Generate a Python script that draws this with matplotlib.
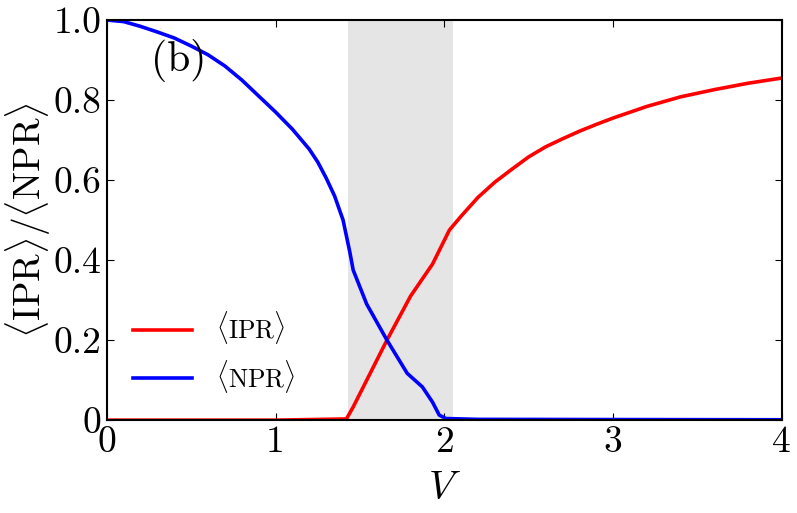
import numpy as np
import matplotlib
matplotlib.use('Agg')
import matplotlib.pyplot as plt

plt.rcParams['font.family'] = 'serif'
plt.rcParams['font.serif'] = ['cmr10']
plt.rcParams['mathtext.fontset'] = 'cm'
plt.rcParams['axes.formatter.use_mathtext'] = True

# values
v_npr = [0.0, 0.1, 0.2, 0.3, 0.4, 0.5, 0.6, 0.7, 0.8, 0.9, 1.0, 1.1, 1.2,
         1.25, 1.3, 1.35, 1.4, 1.44, 1.46, 1.54, 1.66, 1.78, 1.87, 1.93, 1.97,
         2.01, 2.2, 3.0, 4.0]
npr = [1.0, 0.996, 0.984, 0.97, 0.955, 0.935, 0.913, 0.885, 0.85, 0.81,
       0.77, 0.727, 0.677, 0.645, 0.605, 0.56, 0.50, 0.42, 0.375, 0.29, 0.20,
       0.117, 0.083, 0.045, 0.0125, 0.004, 0.002, 0.0015, 0.001]

v_ipr = [0.0, 1.0, 1.42, 1.46, 1.66, 1.80, 1.93, 2.03, 2.1, 2.2, 2.3, 2.4,
         2.5, 2.6, 2.7, 2.8, 2.9, 3.0, 3.2, 3.4, 3.6, 3.8, 4.0]
ipr = [0.0, 0.0, 0.003, 0.033, 0.20, 0.31, 0.39, 0.475, 0.51, 0.557, 0.595,
       0.627, 0.658, 0.683, 0.703, 0.722, 0.739, 0.755, 0.784, 0.808, 0.826,
       0.842, 0.855]

shade = (1.43, 2.05)

xticks = [0, 1, 2, 3, 4]
yticks = [0, 0.2, 0.4, 0.6, 0.8, 1.0]
ytick_labels = ['0', '0.2', '0.4', '0.6', '0.8', '1.0']

fig = plt.figure(figsize=(7.97, 5.13), dpi=100)
ax = fig.add_axes([0.134, 0.181, 0.847, 0.780])

ax.axvspan(shade[0], shade[1], color='#e5e5e5', lw=0, zorder=0)
ax.plot(v_ipr, ipr, color='red', lw=2.6, label=r'$\langle\mathrm{IPR}\rangle$')
ax.plot(v_npr, npr, color='blue', lw=2.6, label=r'$\langle\mathrm{NPR}\rangle$')

ax.set_xlim(0, 4)
ax.set_ylim(0, 1.0)
ax.set_xticks(xticks)
ax.set_xticklabels([str(t) for t in xticks])
ax.set_yticks(yticks)
ax.set_yticklabels(ytick_labels)
ax.tick_params(direction='in', top=True, right=True, length=5, width=0.8,
               labelsize=27, pad=4)
for s in ax.spines.values():
    s.set_linewidth(1.5)

ax.set_xlabel(r'$V$', fontsize=29, labelpad=9)
ax.set_ylabel(r'$\langle\mathrm{IPR}\rangle/\langle\mathrm{NPR}\rangle$',
              fontsize=27, labelpad=0)
ax.text(0.065, 0.9, '(b)', transform=ax.transAxes, fontsize=30, va='center')

ax.legend(loc='lower left', bbox_to_anchor=(0.005, 0.005), frameon=False,
          fontsize=18.5, handlelength=2.3, handletextpad=0.9, labelspacing=0.45)

fig.savefig('out.png', dpi=100)
